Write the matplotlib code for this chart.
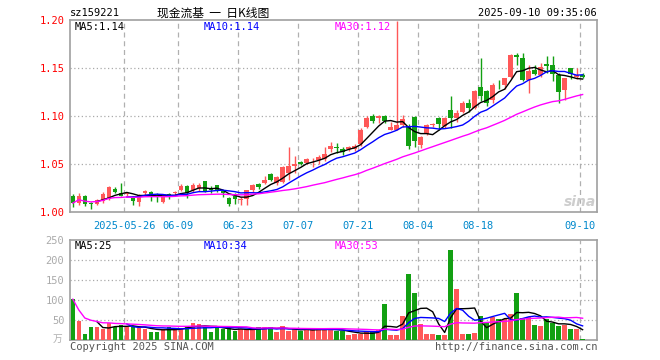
import numpy as np
import matplotlib
matplotlib.use("Agg")
import matplotlib.pyplot as plt

# daily candles, index 0 = first visible trading day
opens = [1.016, 1.009, 1.016, 1.0085, 1.008, 1.011, 1.0135, 1.024, 1.019, 1.018,
         1.0145, 1.0105, 1.019, 1.021, 1.017, 1.010, 1.018, 1.019, 1.023, 1.0265,
         1.0225, 1.025, 1.032, 1.025, 1.0275, 1.0215, 1.0145, 1.016, 1.012, 1.013,
         1.0225, 1.029, 1.0295, 1.039, 1.0295, 1.031, 1.0405, 1.0475, 1.052, 1.051,
         1.0545, 1.054, 1.055, 1.065, 1.067, 1.0655, 1.065, 1.065, 1.071, 1.0885,
         1.0995, 1.0975, 1.100, 1.0855, 1.0855, 1.090, 1.089, 1.099, 1.070, 1.0815,
         1.0905, 1.098, 1.089, 1.1065, 1.098, 1.1045, 1.1135, 1.108, 1.130, 1.1255,
         1.117, 1.1335, 1.1325, 1.1405, 1.164, 1.160, 1.137, 1.148, 1.143, 1.1545,
         1.1535, 1.143, 1.1265, 1.150, 1.141, 1.143]
highs = [1.018, 1.019, 1.017, 1.0105, 1.0135, 1.0205, 1.027, 1.026, 1.0295, 1.021,
         1.016, 1.018, 1.023, 1.022, 1.020, 1.017, 1.020, 1.022, 1.029, 1.028,
         1.030, 1.030, 1.032, 1.027, 1.028, 1.022, 1.015, 1.020, 1.0155, 1.023,
         1.029, 1.030, 1.037, 1.040, 1.037, 1.048, 1.067, 1.058, 1.053, 1.056,
         1.056, 1.059, 1.068, 1.073, 1.072, 1.068, 1.069, 1.071, 1.087, 1.100,
         1.102, 1.1005, 1.101, 1.094, 1.199, 1.101, 1.091, 1.0995, 1.079, 1.091,
         1.093, 1.099, 1.099, 1.1205, 1.106, 1.115, 1.118, 1.127, 1.160, 1.127,
         1.134, 1.1375, 1.140, 1.165, 1.166, 1.166, 1.1535, 1.1535, 1.155, 1.162,
         1.1625, 1.145, 1.140, 1.150, 1.150, 1.145]
lows = [1.005, 1.007, 1.006, 1.003, 1.007, 1.009, 1.012, 1.0195, 1.016, 1.016,
        1.007, 1.006, 1.017, 1.011, 1.010, 1.009, 1.013, 1.017, 1.022, 1.0145,
        1.021, 1.022, 1.021, 1.020, 1.021, 1.0155, 1.006, 1.0085, 1.007, 1.007,
        1.021, 1.024, 1.029, 1.032, 1.028, 1.030, 1.0335, 1.040, 1.049, 1.050,
        1.047, 1.050, 1.053, 1.062, 1.061, 1.0595, 1.063, 1.063, 1.069, 1.087,
        1.093, 1.093, 1.093, 1.085, 1.085, 1.088, 1.065, 1.0675, 1.066, 1.080,
        1.0885, 1.0855, 1.087, 1.0875, 1.094, 1.103, 1.104, 1.107, 1.115, 1.110,
        1.1135, 1.1275, 1.128, 1.140, 1.1535, 1.136, 1.124, 1.143, 1.141, 1.145,
        1.136, 1.113, 1.117, 1.138, 1.138, 1.139]
closes = [1.009, 1.016, 1.008, 1.008, 1.012, 1.018, 1.026, 1.021, 1.016, 1.0195,
          1.011, 1.017, 1.0215, 1.017, 1.0155, 1.0155, 1.016, 1.021, 1.0265, 1.020,
          1.028, 1.028, 1.0215, 1.0225, 1.0225, 1.019, 1.0085, 1.013, 1.013, 1.0225,
          1.0275, 1.0255, 1.0335, 1.033, 1.036, 1.047, 1.048, 1.050, 1.050, 1.0555,
          1.0555, 1.057, 1.0605, 1.069, 1.066, 1.062, 1.0675, 1.069, 1.0855, 1.098,
          1.0945, 1.100, 1.0945, 1.0885, 1.090, 1.097, 1.069, 1.0735, 1.078, 1.090,
          1.0915, 1.091, 1.098, 1.098, 1.1025, 1.113, 1.108, 1.1255, 1.1205, 1.1135,
          1.1325, 1.133, 1.1395, 1.164, 1.1615, 1.137, 1.1465, 1.1435, 1.151, 1.1515,
          1.144, 1.1245, 1.1395, 1.144, 1.143, 1.141]
# volume in 万
volumes = [102, 48, 15, 33, 33, 27, 42, 32, 37, 33,
           33, 31, 27, 21, 21, 27, 33, 27, 27, 35,
           43, 39, 33, 21, 33, 27, 29, 22, 27, 27,
           27, 32, 32, 32, 21, 35, 22, 27, 22, 27,
           27, 27, 27, 27, 22, 22, 12, 15, 15, 21,
           21, 25, 90, 12, 12, 60, 165, 118, 40, 15,
           15, 12, 12, 225, 127, 15, 15, 18, 60, 46,
           57, 52, 52, 65, 118, 54, 57, 37, 35, 52,
           43, 35, 37, 27, 27, 3]

date_idx = [9, 18, 28, 38, 48, 58, 68, 85]
date_labels = ["2025-05-26", "06-09", "06-23", "07-07", "07-21", "08-04", "08-18", "09-10"]
price_ticks = [1.00, 1.05, 1.10, 1.15, 1.20]
vol_ticks = [50, 100, 150, 200, 250]

RED = "#ff5858"
GREEN = "#12a012"
GRAY = "#a0a0a0"


def sma(vals, n, minp):
    out = []
    for i in range(len(vals)):
        if i + 1 < minp:
            out.append(np.nan)
        else:
            out.append(np.mean(vals[max(0, i - n + 1):i + 1]))
    return np.array(out)


o = np.array(opens)
h = np.array(highs)
l = np.array(lows)
c = np.array(closes)
v = np.array(volumes)
x = np.arange(len(c))
up = c >= o
colors = [RED if u else GREEN for u in up]

mono = "DejaVu Sans Mono"
fig = plt.figure(figsize=(6.6, 3.6), dpi=100)
W, H = 660, 360


def fx(px):
    return px / W


def fy(py):
    return 1 - py / H


ax = fig.add_axes([fx(70), fy(212), 527 / W, 192 / H])
axv = fig.add_axes([fx(70), fy(340), 527 / W, 100 / H])

gx = [i - 0.42 for i in date_idx]
for a in (ax, axv):
    a.set_xlim(-0.47, 87.4)
    for s in a.spines.values():
        s.set_color(GRAY)
        s.set_linewidth(1.2)
    for g in gx:
        a.axvline(g, color="#b0b0b0", lw=0.9, ls=(0, (4, 3)), zorder=0)
    a.set_xticks([])

# candles
body_lo = np.minimum(o, c)
body_h = np.maximum(np.abs(c - o), 0.0006)
ax.vlines(x, l, h, colors=colors, lw=1, zorder=2)
ax.bar(x, body_h, bottom=body_lo, width=0.75, color=colors, zorder=3)
ax.plot(x, sma(c, 5, 5), color="black", lw=1, zorder=4)
ax.plot(x, sma(c, 10, 10), color="#0000ff", lw=1, zorder=4)
ax.plot(x, sma(c, 30, 1), color="#ff00ff", lw=1, zorder=4)
ax.set_ylim(0.9997, 1.2)
ax.set_yticks(price_ticks)
ax.set_yticklabels([f"{p:.2f}" for p in price_ticks], family=mono, fontsize=7.5)
ax.tick_params(axis="y", length=0, pad=4, labelcolor="#ff0000")
for p in price_ticks[1:-1]:
    ax.axhline(p, color="#aaaaaa", lw=0.9, ls=(0, (1, 2)), zorder=0)

for g, lab in zip(gx, date_labels):
    ax.text(g, -0.045, lab, transform=ax.get_xaxis_transform(), ha="center",
            va="top", color="#0088cc", family=mono, fontsize=7.5)

# volume
axv.bar(x, v, width=0.75, color=colors, zorder=3)
axv.plot(x, sma(v, 5, 5), color="black", lw=1, zorder=4)
axv.plot(x, sma(v, 10, 10), color="#0000ff", lw=1, zorder=4)
axv.plot(x, sma(v, 30, 1), color="#ff00ff", lw=1, zorder=4)
axv.set_ylim(0, 250)
axv.set_yticks(vol_ticks)
axv.set_yticklabels([str(t) for t in vol_ticks], family=mono, fontsize=7.5)
axv.tick_params(axis="y", length=0, pad=4, labelcolor="#aaaaaa")
for t in vol_ticks[:-1]:
    axv.axhline(t, color="#aaaaaa", lw=0.9, ls=(0, (1, 2)), zorder=0)

# header texts
fig.text(fx(70), fy(13), "sz159221", family=mono, fontsize=7.5, va="center")
fig.text(fx(213), fy(13), "现金流基  一  日K线图", family=["Noto Sans CJK SC", "DejaVu Sans"],
         fontsize=8.5, va="center", ha="center")
fig.text(fx(597), fy(13), "2025-09-10 09:35:06", family=mono, fontsize=7.5,
         va="center", ha="right")

fig.text(fx(75), fy(27), "MA5:1.14", family=mono, fontsize=7.5, va="center", color="black")
fig.text(fx(204), fy(27), "MA10:1.14", family=mono, fontsize=7.5, va="center", color="#0000ff")
fig.text(fx(335), fy(27), "MA30:1.12", family=mono, fontsize=7.5, va="center", color="#ff00ff")
fig.text(fx(75), fy(246), "MA5:25", family=mono, fontsize=7.5, va="center", color="black")
fig.text(fx(204), fy(246), "MA10:34", family=mono, fontsize=7.5, va="center", color="#0000ff")
fig.text(fx(335), fy(246), "MA30:53", family=mono, fontsize=7.5, va="center", color="#ff00ff")

fig.text(fx(58), fy(339), "万", family=["Noto Sans CJK SC"], fontsize=7,
         va="center", ha="center", color="#b0b0b0")
fig.text(fx(70), fy(347), "Copyright 2025 SINA.COM", family=mono, fontsize=7.5,
         va="center", color="#555555")
fig.text(fx(597), fy(347), "http://finance.sina.com.cn", family=mono, fontsize=7.5,
         va="center", ha="right", color="#555555")
fig.text(fx(596), fy(202), "sina", family="DejaVu Sans", fontsize=10, style="italic",
         weight="bold", va="center", ha="right", color="#c8c8c8", alpha=0.9)

fig.savefig("out.png", dpi=100)
